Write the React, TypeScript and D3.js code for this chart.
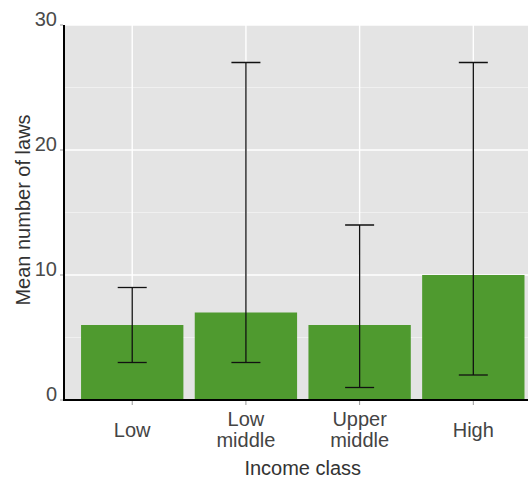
import React from "react";
import * as d3 from "d3";

const categories = ["Low", "Low middle", "Upper middle", "High"];
const categoryLines = [["Low"], ["Low", "middle"], ["Upper", "middle"], ["High"]];
const means = [6, 7, 6, 10];
const lows = [3, 3, 1, 2];
const highs = [9, 27, 14, 27];
const yTicks = [0, 10, 20, 30];
const yMinor = [5, 15, 25];

const W = 528;
const H = 479;
const left = 64;
const top = 25;
const bottom = 400;
const step = 113.7;
const plotRight = left + step * (categories.length - 1 + 1.2);

export default function App() {
  const x = d3
    .scaleBand<string>()
    .domain(categories)
    .range([left + 0.6 * step - step / 2, left + 0.6 * step - step / 2 + step * categories.length])
    .paddingInner(0.1)
    .paddingOuter(0.05);
  const bw = step * 0.9;
  const cx = (c: string) => (x(c) as number) + x.bandwidth() / 2;
  const y = d3.scaleLinear().domain([0, 30]).range([bottom, top]);
  const font = "Liberation Sans, Arial, sans-serif";
  return (
    <svg width={W} height={H} style={{ display: "block", position: "absolute", left: 0, top: 0 }}>
      <defs>
        <clipPath id="clip">
          <rect x={left} y={top} width={plotRight - left} height={bottom - top} />
        </clipPath>
      </defs>
      <rect x={left} y={top} width={plotRight - left} height={bottom - top} fill="#e4e4e4" />
      {yMinor.map((t) => (
        <line key={"m" + t} x1={left} x2={plotRight} y1={y(t)} y2={y(t)} stroke="#f0f0f0" strokeWidth={1} />
      ))}
      {yTicks.map((t) => (
        <line key={"g" + t} x1={left} x2={plotRight} y1={y(t)} y2={y(t)} stroke="#ffffff" strokeWidth={1.4} />
      ))}
      {categories.map((c) => (
        <line key={"v" + c} x1={cx(c)} x2={cx(c)} y1={top} y2={bottom} stroke="#ffffff" strokeWidth={1.4} />
      ))}
      <g clipPath="url(#clip)">
        {categories.map((c, i) => (
          <rect
            key={"b" + c}
            x={cx(c) - bw / 2}
            y={y(means[i])}
            width={bw}
            height={y(0) - y(means[i])}
            fill="#4f9a2f"
          />
        ))}
        {categories.map((c, i) => (
          <g key={"e" + c} stroke="#111" strokeWidth={1.3}>
            <line x1={cx(c)} x2={cx(c)} y1={y(lows[i])} y2={y(highs[i])} />
            <line x1={cx(c) - 14.5} x2={cx(c) + 14.5} y1={y(lows[i])} y2={y(lows[i])} />
            <line x1={cx(c) - 14.5} x2={cx(c) + 14.5} y1={y(highs[i])} y2={y(highs[i])} />
          </g>
        ))}
      </g>
      <line x1={left} x2={left} y1={top} y2={bottom + 1} stroke="#000" strokeWidth={2} />
      <line x1={left - 1} x2={W} y1={bottom} y2={bottom} stroke="#000" strokeWidth={2} />
      {yTicks.map((t) => (
        <g key={"yt" + t}>
          <line x1={left - 4} x2={left - 1} y1={y(t)} y2={y(t)} stroke="#999" strokeWidth={1} />
          <text x={left - 7} y={y(t) + 0.5} textAnchor="end" fontFamily={font} fontSize={20} fill="#4a4a4a">
            {t}
          </text>
        </g>
      ))}
      {categories.map((c, i) => {
        const lines = categoryLines[i];
        const startY = lines.length === 1 ? 437 : 426;
        return (
          <g key={"xt" + c}>
            <line x1={cx(c)} x2={cx(c)} y1={bottom + 1} y2={bottom + 5} stroke="#999" strokeWidth={1} />
            {lines.map((l, j) => (
              <text
                key={j}
                x={cx(c)}
                y={startY + j * 20.5}
                textAnchor="middle"
                fontFamily={font}
                fontSize={20}
                fill="#444"
              >
                {l}
              </text>
            ))}
          </g>
        );
      })}
      <text x={(left + plotRight) / 2} y={475} textAnchor="middle" fontFamily={font} fontSize={20} fill="#333">
        Income class
      </text>
      <text
        transform={`translate(30, ${210}) rotate(-90)`}
        textAnchor="middle"
        fontFamily={font}
        fontSize={20}
        fill="#333"
      >
        Mean number of laws
      </text>
    </svg>
  );
}
